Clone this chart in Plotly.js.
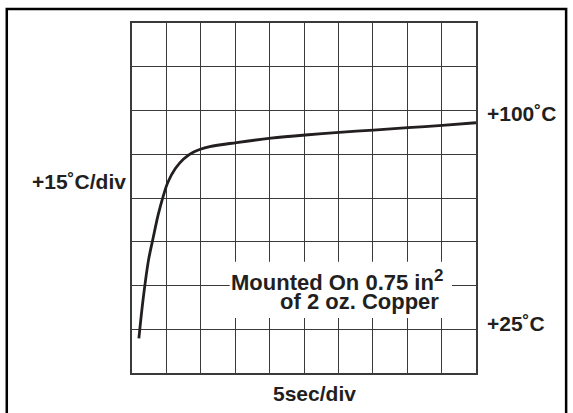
<!DOCTYPE html>
<html>
<head>
<meta charset="utf-8">
<script src="https://cdn.plot.ly/plotly-3.0.1.min.js"></script>
<style>
  html, body { margin: 0; padding: 0; background: #ffffff; }
  #chart { width: 573px; height: 413px; }
</style>
</head>
<body>
<div id="chart"></div>
<script>
// Time axis (seconds), 5 sec/div, 10 divisions
const timeSec = [1.0, 1.6, 2.4, 3.1, 3.8, 4.5, 5.2, 6.3, 7.5, 8.9, 11.3, 15.2, 20.2, 25.2, 30.1, 35.1, 40.1, 45.1, 50];
// Case temperature (degC), 15 degC/div
const tempC   = [21.9, 35.0, 48.7, 56.6, 64.2, 70.3, 75.3, 80.1, 83.4, 85.7, 87.6, 89.0, 90.5, 91.6, 92.5, 93.3, 94.1, 94.9, 95.8];

const xRange = [0, 50];
const yRange = [10, 130];
const xDiv = 5;
const yDiv = 15;

const rightLabels = ['+100˚C', '+25˚C'];
const rightLabelTemps = [100, 25];
const yAxisLabel = '+15˚C/div';
const xAxisLabel = '5sec/div';
const noteLine1 = 'Mounted On 0.75 in<sup><span style="font-size:17px">2</span></sup>';
const noteLine2 = 'of 2 oz. Copper';

const ink = '#231f20';
const gridInk = '#3a3a3a';
const fontFam = '"Liberation Sans", Arial, Helvetica, sans-serif';
const txtFont = {family: fontFam, size: 21, color: ink, weight: 'bold'};
const noteFont = {family: fontFam, size: 22, color: ink, weight: 'bold'};

const trace = {
  x: timeSec, y: tempC, type: 'scatter', mode: 'lines',
  line: {color: ink, width: 2.8, shape: 'spline', smoothing: 0.9},
  hoverinfo: 'skip'
};

const layout = {
  width: 573, height: 413,
  margin: {l: 132, r: 97, t: 23, b: 40, pad: 0},
  paper_bgcolor: '#ffffff', plot_bgcolor: '#ffffff',
  showlegend: false,
  xaxis: {
    range: xRange, dtick: xDiv, tick0: 0, showgrid: true, gridcolor: gridInk, gridwidth: 1,
    zeroline: false, showticklabels: false, ticks: '',
    showline: true, mirror: true, linecolor: gridInk, linewidth: 1.6, fixedrange: true
  },
  yaxis: {
    range: yRange, dtick: yDiv, tick0: 10, showgrid: true, gridcolor: gridInk, gridwidth: 1,
    zeroline: false, showticklabels: false, ticks: '',
    showline: true, mirror: true, linecolor: gridInk, linewidth: 1.6, fixedrange: true
  },
  shapes: [
    // white box behind the note
    {type: 'rect', xref: 'x', yref: 'y', x0: 14.2, x1: 46.5, y0: 28.9, y1: 48.1,
     fillcolor: '#ffffff', line: {width: 0}, layer: 'above'},
    // outer frame
    {type: 'rect', xref: 'paper', yref: 'paper', x0: -0.364, x1: 1.262, y0: -0.2, y1: 1.04,
     fillcolor: 'rgba(0,0,0,0)', line: {color: '#000000', width: 2.5}, layer: 'above'}
  ],
  annotations: [
    {text: rightLabels[0], xref: 'paper', yref: 'y', x: 1.026, y: rightLabelTemps[0],
     xanchor: 'left', yanchor: 'middle', yshift: -3, showarrow: false, font: txtFont},
    {text: rightLabels[1], xref: 'paper', yref: 'y', x: 1.026, y: rightLabelTemps[1],
     xanchor: 'left', yanchor: 'middle', yshift: 6, showarrow: false, font: txtFont},
    {text: yAxisLabel, xref: 'paper', yref: 'paper', x: -0.012, y: 0.546,
     xanchor: 'right', yanchor: 'middle', showarrow: false, font: txtFont},
    {text: xAxisLabel, xref: 'paper', yref: 'paper', x: 0.5305, y: -0.058,
     xanchor: 'center', yanchor: 'middle', showarrow: false, font: txtFont},
    {text: noteLine1, xref: 'paper', yref: 'paper', x: 0.909, y: (373 - 282) / 350,
     xanchor: 'right', yanchor: 'middle', yshift: 2, showarrow: false, font: noteFont},
    {text: noteLine2, xref: 'paper', yref: 'paper', x: 0.897, y: (373 - 301) / 350,
     xanchor: 'right', yanchor: 'middle', showarrow: false, font: noteFont}
  ]
};

Plotly.newPlot('chart', [trace], layout, {displayModeBar: false, staticPlot: true});
</script>
</body>
</html>
